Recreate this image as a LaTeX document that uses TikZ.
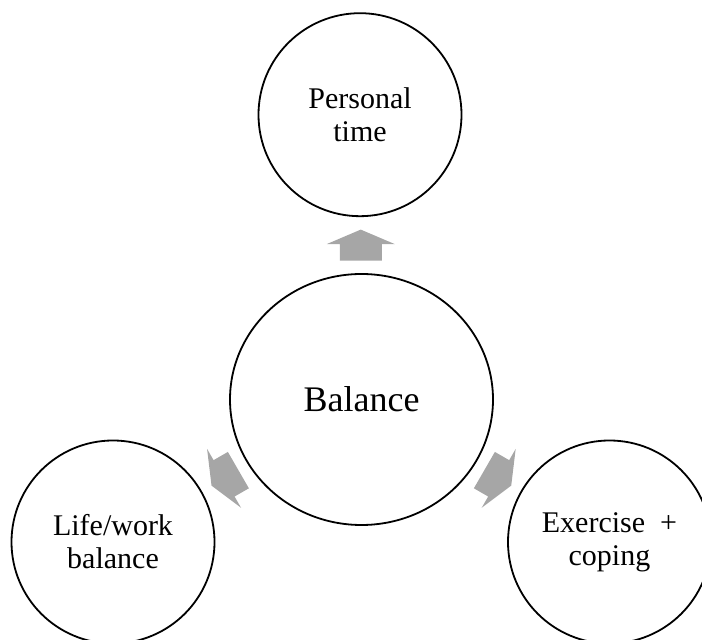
\documentclass[tikz,border=0pt]{standalone}
\usepackage{fontspec}
\setmainfont{Liberation Serif}
\usetikzlibrary{positioning,calc,shapes.geometric}
\definecolor{arrowgray}{RGB}{166,166,166}

\begin{document}
\begin{tikzpicture} [x=1pt,y=1pt,
    bubble/.style={draw,line width=1.8pt,circle,minimum size=203pt,inner sep=0pt,align=center,font=\fontsize{30}{33}\selectfont},
    pics/blockarrow/.style={code={\fill[arrowgray] (-15.5,-21) -- (1,-21) -- (1,-34) -- (15.5,0) -- (1,34) -- (1,21) -- (-15.5,21) -- cycle;}}]
    \useasboundingbox (0,0) rectangle (702,640);
    \node[draw,line width=1.8pt,ellipse,minimum width=263pt,minimum height=251pt,font=\fontsize{36}{40}\selectfont] (balance) at (361.5,240.5) {Balance};
    \node[bubble] (personal) at (360,525.3) {Personal\\time};
    \node[bubble] (lifework) at (113,98) {Life/work\\balance};
    \node[bubble] (exercise) at (609.5,98) {Exercise\ \ +\\coping};

    \pic[rotate=90] at ($(balance.90)!0.5!(personal.270)$) {blockarrow};
    \pic[rotate=210] at ($(balance.210)!0.5!(lifework.30)$) {blockarrow};
    \pic[rotate=-30] at ($(balance.-30)!0.5!(exercise.150)$) {blockarrow};
\end{tikzpicture}
\end{document}
